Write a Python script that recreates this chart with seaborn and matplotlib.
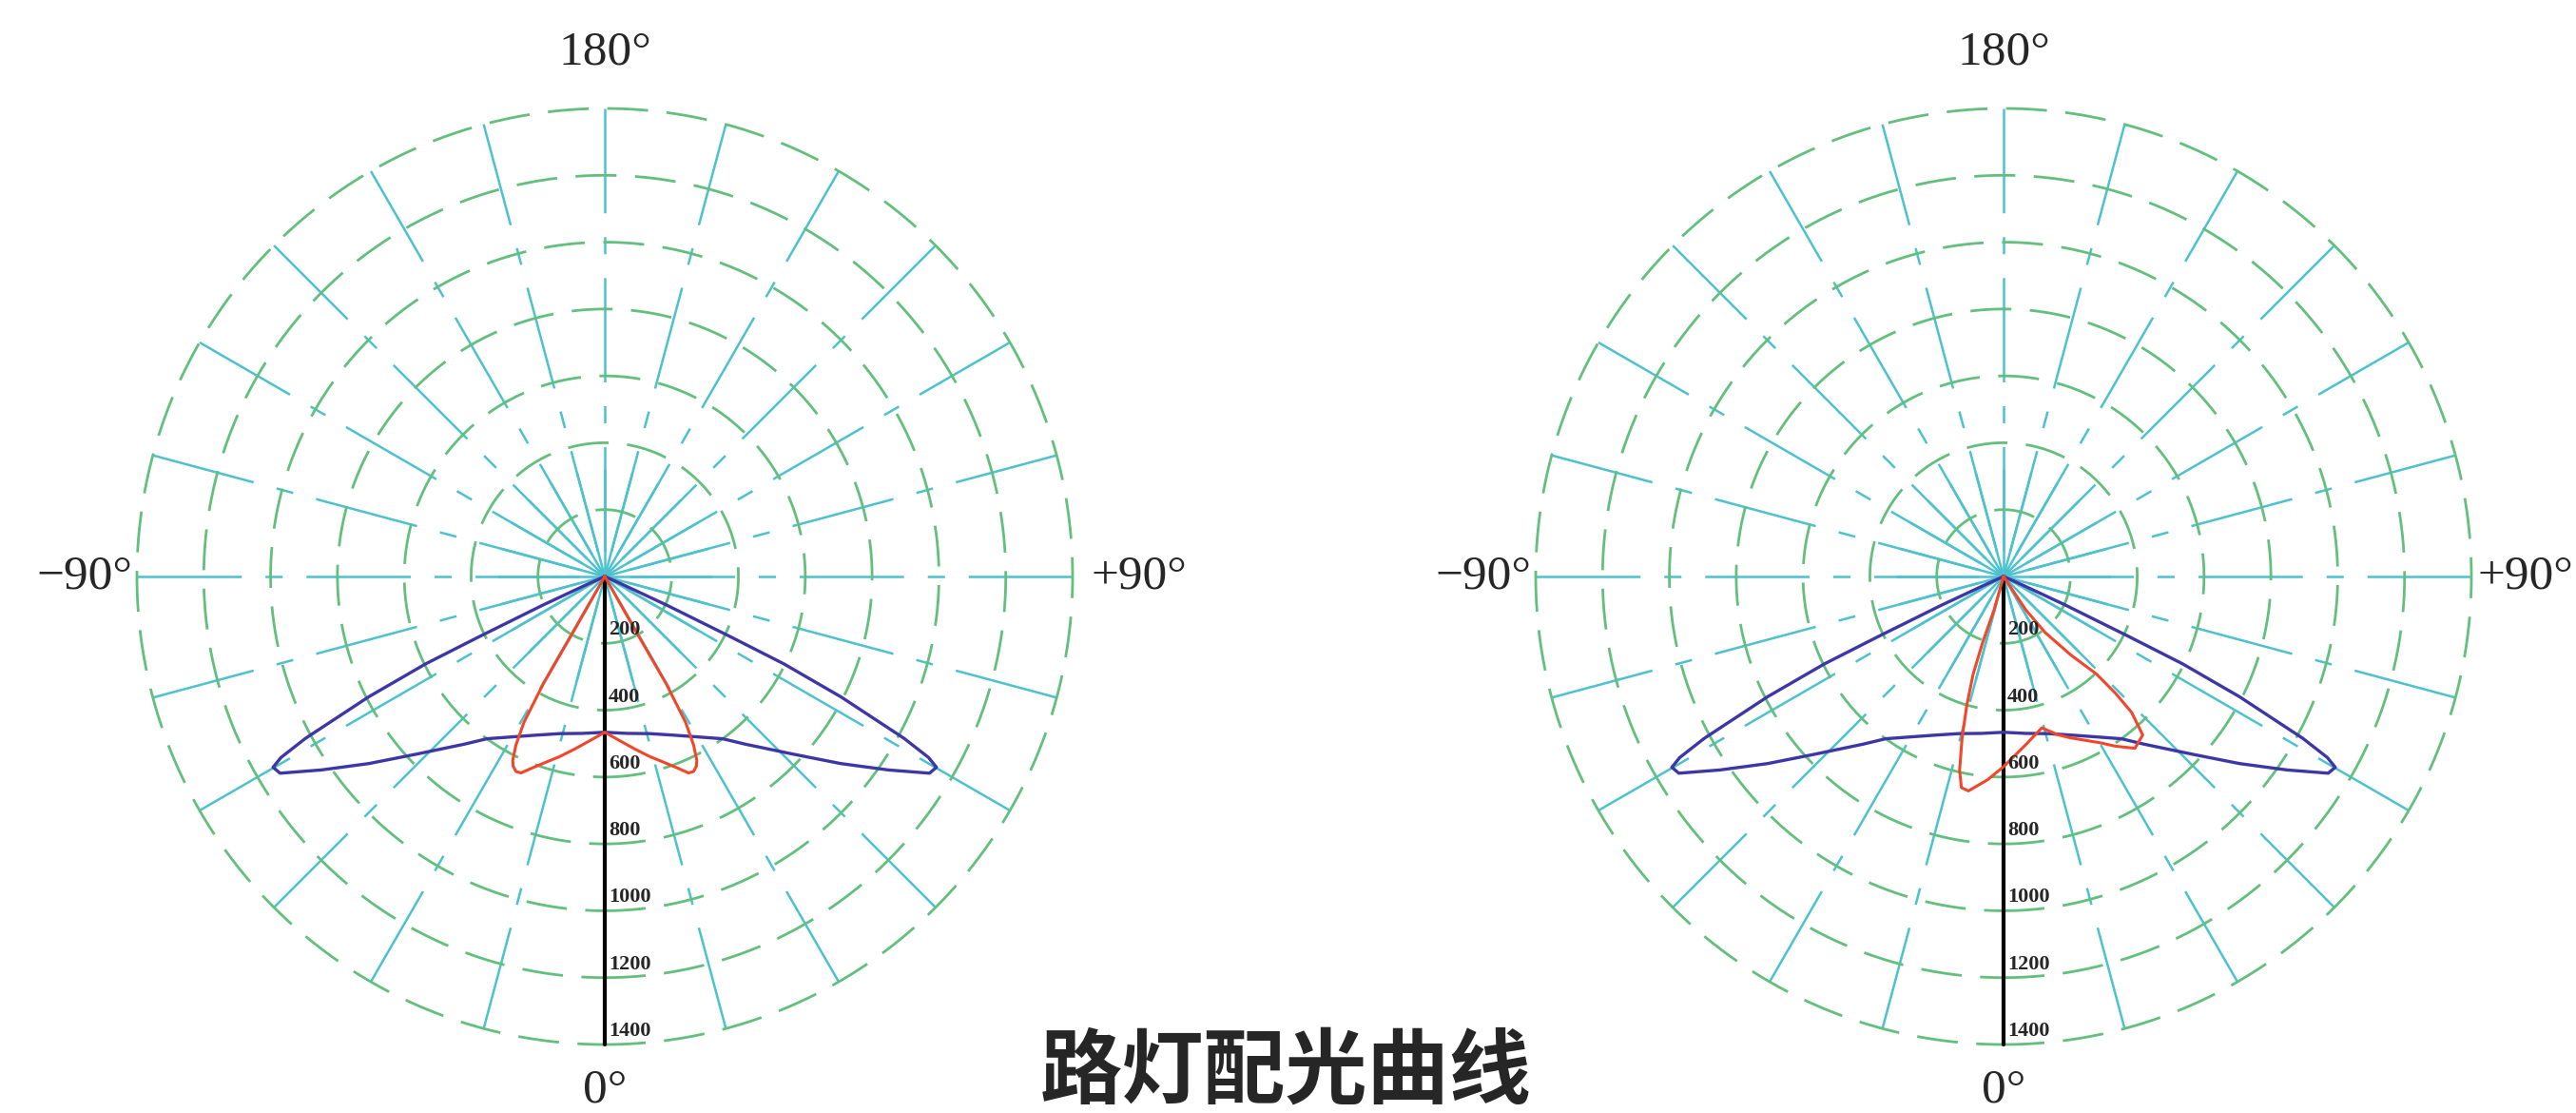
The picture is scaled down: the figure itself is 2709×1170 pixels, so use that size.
import numpy as np
import matplotlib
matplotlib.use("Agg")
import matplotlib.pyplot as plt
import seaborn as sns

# ---- data (angle in degrees, intensity in cd) ----
# C0-C180 plane (blue), half profile, mirrored for the other side
blue_deg = [0, 8, 16, 24, 30, 36, 40, 46.7, 51.6, 55.7, 58.8, 60.1, 60.8, 61.6, 63, 64, 64.4, 65.2, 65.8, 66.2]
blue_cd = [466, 474, 489, 520, 554, 600, 655, 775, 901, 1027, 1136, 1145, 1110, 1018, 793, 596, 415, 203, 60, 0]

# C90-C270 plane of the left lamp (red), half profile, symmetric
red_left_deg = [0, 5, 9.9, 14, 18.3, 21, 23.1, 24.5, 25.8, 26.6, 27.8, 29, 29.8, 29.6, 29.5]
red_left_cd = [466, 492, 524, 555, 589, 615, 639, 641, 630, 615, 570, 499, 371, 185, 0]

# C90-C270 plane of the right lamp (red), asymmetric, in drawing order
red_right_deg = [33, 33.7, 36.6, 40.6, 43.6, 43.8, 43.3, 41.3, 37.4, 33.4, 30, 22.6, 19, 14.2,
                 7.6, 0, -4.5, -9.3, -11.3, -12.8, -14.4, -15.9, -17.3, -17.6, -15.9, -15]
red_right_cd = [0, 121, 209, 309, 403, 484, 559, 631, 647, 608, 574, 523, 501, 467,
                507, 569, 610, 650, 644, 594, 499, 403, 306, 206, 105, 0]

ring_values = [200, 400, 600, 800, 1000, 1200, 1400]
angle_labels = ["180°", "0°", "−90°", "+90°"]
angle_pos = [180, 0, -90, 90]
title = "路灯配光曲线"

sns.set_theme(style="white")
plt.rcParams["font.family"] = ["Liberation Serif", "DejaVu Sans"]
plt.rcParams["lines.scale_dashes"] = False

GREEN = "#62bf7c"
CYAN = "#4cc2cf"
BLUE = "#3d36a6"
RED = "#f2462b"
RMAX = 1400


def mirror(deg, cd):
    t = [-d for d in deg[::-1]] + list(deg[1:])
    r = list(cd[::-1]) + list(cd[1:])
    return t, r


def draw_chart(ax, blue, red, right_label_r):
    ax.set_theta_zero_location("S")
    ax.set_theta_direction(1)
    ax.set_ylim(0, RMAX)
    ax.axis("off")

    # spokes every 15 degrees
    for a in range(0, 360, 15):
        th = np.deg2rad(a)
        ax.plot([th, th], [RMAX, 0], color=CYAN, lw=1.8,
                linestyle=(0, (79, 18, 13, 18)), clip_on=False, zorder=1)
        ax.plot([th, th], [0, 320], color=CYAN, lw=1.8, clip_on=False, zorder=1)

    # dashed rings
    tt = np.linspace(0, 2 * np.pi, 720)
    for rv in ring_values:
        ax.plot(tt, np.full_like(tt, rv), color=GREEN, lw=2.0,
                linestyle=(0, (31, 14)), clip_on=False, zorder=2)

    # black scale line and its labels
    ax.plot([0, 0], [0, RMAX], color="black", lw=3, clip_on=False, zorder=3)
    for rv in ring_values:
        ax.annotate(str(rv), xy=(0, rv - 40), xytext=(3, 0), textcoords="offset points",
                    ha="left", va="center", fontsize=16, fontweight="bold",
                    family="Liberation Serif", annotation_clip=False, zorder=6)

    place = {180: (1568, "center"), 0: (1537, "center"),
             -90: (1414, "right"), 90: (right_label_r, "left")}
    for lab, a in zip(angle_labels, angle_pos):
        rr, ha = place[a]
        ax.text(np.deg2rad(a), rr, lab, ha=ha, va="center", fontsize=37,
                family="Liberation Serif", clip_on=False)

    bt, br = blue
    sns.lineplot(x=np.deg2rad(bt), y=br, ax=ax, sort=False, estimator=None,
                 color=BLUE, lw=2.4, clip_on=False, zorder=4)
    rt, rr_ = red
    sns.lineplot(x=np.deg2rad(rt), y=rr_, ax=ax, sort=False, estimator=None,
                 color=RED, lw=2.2, clip_on=False, zorder=5)
    ax.set_xlabel("")
    ax.set_ylabel("")


fig = plt.figure(figsize=(27.09, 11.70), dpi=100)
W, H = 2709, 1170
R_PX = 492
for cx, cy, red, rl in [(636, 606, mirror(red_left_deg, red_left_cd), 1456),
                        (2107, 606, (red_right_deg, red_right_cd), 1418)]:
    ax = fig.add_axes([(cx - R_PX) / W, 1 - (cy + R_PX) / H, 2 * R_PX / W, 2 * R_PX / H],
                      projection="polar")
    draw_chart(ax, mirror(blue_deg, blue_cd), red, rl)

fig.text(1352 / W, 1 - 1127 / H, title, ha="center", va="center", fontsize=62,
         fontweight="bold", family=["Noto Sans CJK SC", "DejaVu Sans"])

fig.savefig("out.png", dpi=100, facecolor="white")
